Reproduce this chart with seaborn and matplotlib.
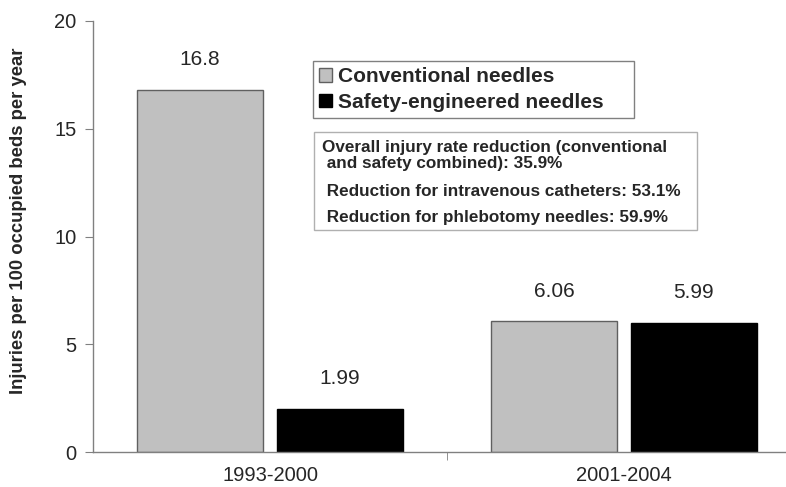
import pandas as pd
import matplotlib.pyplot as plt
import seaborn as sns
from matplotlib.patches import Patch, Rectangle

periods = ['1993-2000', '1993-2000', '2001-2004', '2001-2004']
needle_types = ['Conventional needles', 'Safety-engineered needles',
                'Conventional needles', 'Safety-engineered needles']
rates = [16.8, 1.99, 6.06, 5.99]

box_lines = ['Overall injury rate reduction (conventional',
             ' and safety combined): 35.9%',
             ' Reduction for intravenous catheters: 53.1%',
             ' Reduction for phlebotomy needles: 59.9%']

df = pd.DataFrame({'period': periods, 'type': needle_types, 'rate': rates})

sns.set_style('white')
plt.rcParams['font.family'] = ['Liberation Sans', 'DejaVu Sans']

gray = '#c0c0c0'
colors = {'Conventional needles': gray, 'Safety-engineered needles': 'black'}
edges = ['#606060', 'black']

fig = plt.figure(figsize=(7.86, 4.87), dpi=100)
ax = fig.add_axes([93 / 786, 35 / 487, 693 / 786, 431 / 487])

sns.barplot(data=df, x='period', y='rate', hue='type', palette=colors,
            width=0.79, gap=0.10, legend=False, ax=ax)

for cont, ec in zip(ax.containers, edges):
    for bar in cont:
        bar.set_edgecolor(ec)
        bar.set_linewidth(1)
    ax.bar_label(cont, fmt='%g', padding=15, fontsize=15)

ax.set_xlim(-0.5, 1.4576)
ax.set_ylim(0, 20)
ax.set_yticks([0, 5, 10, 15, 20])
ax.set_xlabel('')
ax.set_ylabel('Injuries per 100 occupied beds per year', fontsize=13.3,
              fontweight='bold')
ax.yaxis.set_label_coords(-0.095, 0.536)

for s in ['top', 'right']:
    ax.spines[s].set_visible(False)
for s in ['left', 'bottom']:
    ax.spines[s].set_color('#808080')
    ax.spines[s].set_linewidth(1)

ax.tick_params(axis='y', direction='out', length=6, color='#808080',
               labelsize=14.5, left=True, pad=6)
ax.tick_params(axis='x', which='major', length=0, labelsize=14.5, pad=10)
ax.set_xticks([0.5], minor=True)
ax.tick_params(axis='x', which='minor', direction='out', length=6,
               color='#808080', bottom=True)

handles = [Patch(facecolor=gray, edgecolor='#606060'),
           Patch(facecolor='black', edgecolor='black')]
leg = ax.legend(handles, list(colors.keys()), loc='upper left',
                bbox_to_anchor=(220 / 693, 0.78, 321 / 693, 0.127),
                mode='expand', borderaxespad=0, fancybox=False,
                edgecolor='#808080', framealpha=1, borderpad=0.3,
                handlelength=0.6, handleheight=0.6, handletextpad=0.3,
                labelspacing=0.32, prop={'size': 15, 'weight': 'bold'})
leg.get_frame().set_linewidth(1)

ax.add_patch(Rectangle(((314 - 93) / 693, (452 - 230) / 431), 383 / 693,
                       98 / 431, transform=ax.transAxes, fill=False,
                       edgecolor='#b0b0b0', linewidth=1))
line_x = [322, 322, 322, 322]
line_y = [152, 168, 196, 222]
for txt, lx, ly in zip(box_lines, line_x, line_y):
    ax.text((lx - 93) / 693, (452 - ly) / 431, txt, transform=ax.transAxes,
            fontsize=12.3, fontweight='bold', va='baseline', ha='left')

fig.savefig('out.png', dpi=100)
